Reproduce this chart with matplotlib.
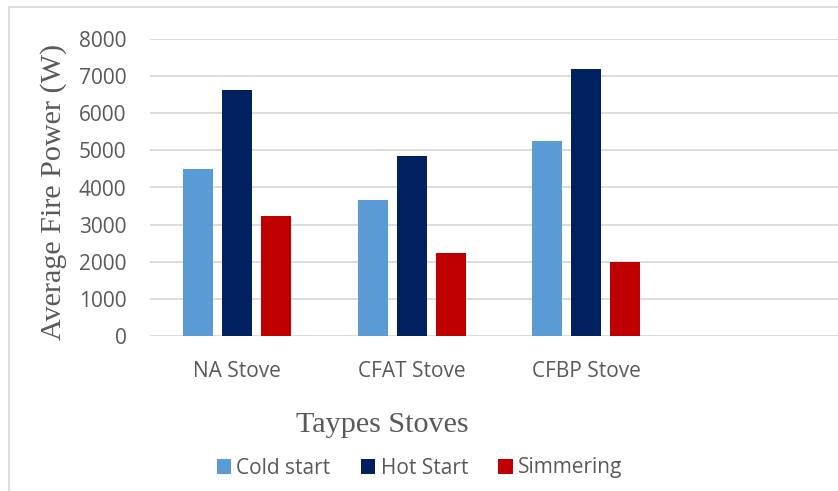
import matplotlib
matplotlib.use("Agg")
import matplotlib.pyplot as plt
import numpy as np
from matplotlib.patches import Rectangle

categories = ["NA Stove", "CFAT Stove", "CFBP Stove"]
series_names = ["Cold start", "Hot Start", "Simmering"]
cold_start = [4510, 3650, 5250]
hot_start = [6630, 4850, 7200]
simmering = [3220, 2240, 1980]
yticks = [0, 1000, 2000, 3000, 4000, 5000, 6000, 7000, 8000]

colors = ["#5B9BD5", "#002060", "#C00000"]
W, H = 838, 491
fig = plt.figure(figsize=(W / 100, H / 100), dpi=100)

# outer chart frame
fig.patches.append(Rectangle((9 / W, -0.1), 1.2, 1 - 7 / H + 0.1, transform=fig.transFigure,
                             fill=False, edgecolor="#D9D9D9", linewidth=1.2))

ax = fig.add_axes([150 / W, 1 - 336 / H, 698 / W, (336 - 39) / H])
x = np.arange(len(categories))
pitch = 0.2235
bw = 0.172
data = [cold_start, hot_start, simmering]
handles = []
for i, (vals, name, c) in enumerate(zip(data, series_names, colors)):
    b = ax.bar(x + (i - 1) * pitch, vals, width=bw, color=c, label=name, zorder=3)
    handles.append(b)

ax.set_xlim(-0.5, 3.5)
ax.set_ylim(0, 8000)
ax.set_yticks(yticks)
ax.set_yticklabels([str(v) for v in yticks])
ax.set_xticks(x)
ax.set_xticklabels(categories)
ax.grid(axis="y", color="#D9D9D9", linewidth=1.3, zorder=0)
ax.set_axisbelow(True)
for s in ax.spines.values():
    s.set_visible(False)
ax.tick_params(axis="both", length=0, colors="#595959", labelsize=15)
ax.tick_params(axis="y", pad=17)
ax.tick_params(axis="x", pad=18)
for lab in ax.get_xticklabels() + ax.get_yticklabels():
    lab.set_fontfamily("Open Sans")

fig.text(54 / W, 1 - 192 / H, "Average Fire Power (W)", rotation=90, ha="center", va="center",
         fontsize=21.7, family="Liberation Serif", color="#595959")
fig.text(382 / W, 1 - 425 / H, "Taypes Stoves", ha="center", va="center",
         fontsize=21.7, family="Liberation Serif", color="#595959")

leg = fig.legend(handles=handles, labels=series_names, ncol=3, loc="center",
                 bbox_to_anchor=(419.5 / W, 1 - 468 / H), frameon=False,
                 handlelength=0.7, handleheight=0.7, handletextpad=0.25,
                 columnspacing=1.45, prop={"family": "Open Sans", "size": 15})
for t in leg.get_texts():
    t.set_color("#595959")

fig.savefig("out.png", dpi=100)
